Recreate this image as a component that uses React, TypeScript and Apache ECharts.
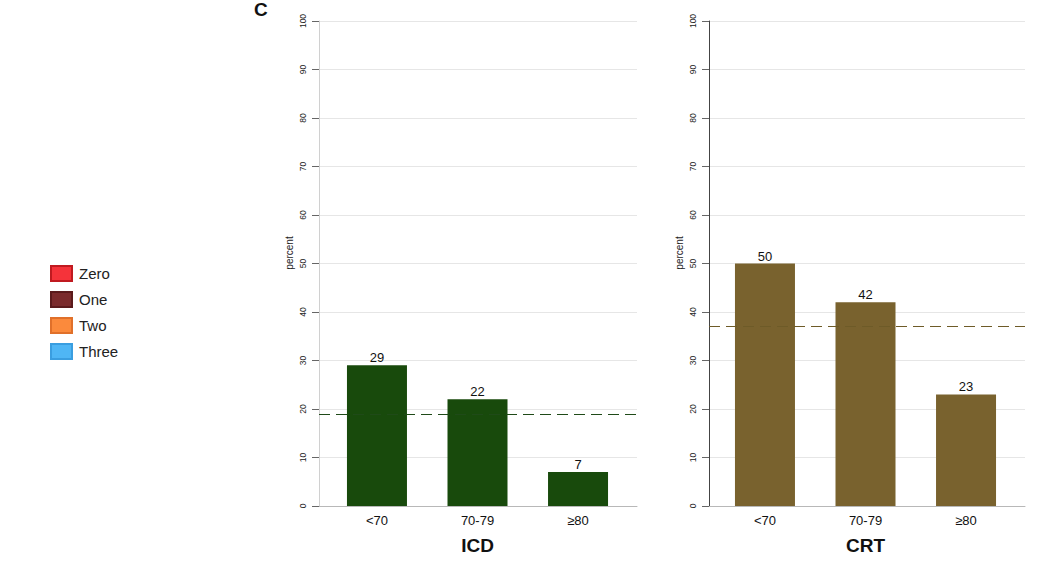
import React, { useEffect, useRef } from "react";
import * as echarts from "echarts";

const categories = ["<70", "70-79", "≥80"];
const icdValues = [29, 22, 7];
const crtValues = [50, 42, 23];
const icdOverall = 19;
const crtOverall = 37;
const legendNames = ["Zero", "One", "Two", "Three"];
const legendColors = ["#f5333a", "#7a2a2c", "#fb8a3c", "#4fb6f5"];
const legendBorders = ["#c01a20", "#5a1a1c", "#e0702a", "#3a9ee0"];

const FONT = "Liberation Sans, Arial, sans-serif";

export default function App() {
  const ref = useRef<HTMLDivElement>(null);
  useEffect(() => {
    const chart = echarts.init(ref.current!, null, { renderer: "svg" });
    const top = 21;
    const height = 485;
    const frameY = (axisColor: string) => ({
      type: "value",
      min: 0,
      max: 100,
      interval: 10,
      axisLine: { show: true, lineStyle: { color: axisColor, width: 1 } },
      axisTick: { show: true, length: 7, lineStyle: { color: "#666" } },
      axisLabel: { rotate: 90, fontSize: 8.5, color: "#222", margin: 12, fontFamily: FONT },
      splitLine: { show: true, lineStyle: { color: "#e6e6e6", width: 1 } },
    });
    const hiddenY = { type: "value", min: 0, max: 100, show: false };
    const frameX = {
      type: "category",
      data: ["a"],
      axisLine: { show: true, lineStyle: { color: "#b8b8b8" } },
      axisTick: { show: false },
      axisLabel: { show: false },
    };
    const barX = (name: string) => ({
      type: "category",
      data: categories,
      axisLine: { show: false },
      axisTick: { show: false },
      axisLabel: { fontSize: 13, color: "#111", margin: 8, fontFamily: FONT },
      name,
      nameLocation: "middle",
      nameGap: 30,
      nameTextStyle: { fontSize: 19, fontWeight: "bold", color: "#111", fontFamily: FONT },
    });
    const barSeries = (idx: number, data: number[], color: string) => ({
      type: "bar",
      xAxisIndex: idx,
      yAxisIndex: idx,
      data,
      barWidth: 60,
      itemStyle: { color },
      label: { show: true, position: "top", distance: 1, fontSize: 13, color: "#111", fontFamily: FONT },
      silent: true,
    });
    const refLine = (idx: number, value: number, color: string) => ({
      type: "line",
      xAxisIndex: idx,
      yAxisIndex: idx,
      data: [null],
      symbol: "none",
      markLine: {
        silent: true,
        symbol: ["none", "none"],
        label: { show: false },
        lineStyle: { color, type: [11, 6], width: 1.2 },
        data: [{ yAxis: value }],
      },
    });
    chart.setOption({
      animation: false,
      backgroundColor: "#ffffff",
      textStyle: { fontFamily: FONT },
      grid: [
        { left: 319, top, width: 318, height },
        { left: 326.7, top, width: 301.6, height },
        { left: 709, top, width: 316, height },
        { left: 714.7, top, width: 301.6, height },
      ],
      xAxis: [
        { ...frameX, gridIndex: 0 },
        { ...barX("ICD"), gridIndex: 1 },
        { ...frameX, gridIndex: 2 },
        { ...barX("CRT"), gridIndex: 3 },
      ],
      yAxis: [
        { ...frameY("#d0d0d0"), gridIndex: 0 },
        { ...hiddenY, gridIndex: 1 },
        { ...frameY("#444444"), gridIndex: 2 },
        { ...hiddenY, gridIndex: 3 },
      ],
      legend: {
        orient: "vertical",
        left: 45,
        top: 260,
        itemWidth: 21,
        itemHeight: 15,
        itemGap: 9,
        icon: "rect",
        selectedMode: false,
        textStyle: { fontSize: 15, color: "#222", fontFamily: FONT, padding: [0, 0, 0, 2] },
        data: legendNames,
      },
      graphic: [
        {
          type: "text",
          left: 254,
          top: 0,
          style: { text: "C", fontSize: 19, fontWeight: "bold", fill: "#111", fontFamily: FONT },
        },
        {
          type: "text",
          x: 289,
          y: 253,
          rotation: Math.PI / 2,
          style: { text: "percent", fontSize: 10, fill: "#222", fontFamily: FONT, align: "center", verticalAlign: "middle" },
        },
        {
          type: "text",
          x: 679,
          y: 253,
          rotation: Math.PI / 2,
          style: { text: "percent", fontSize: 10, fill: "#222", fontFamily: FONT, align: "center", verticalAlign: "middle" },
        },
      ],
      series: [
        ...legendNames.map((n, i) => ({
          type: "bar",
          name: n,
          xAxisIndex: 0,
          yAxisIndex: 0,
          data: [],
          itemStyle: { color: legendColors[i], borderColor: legendBorders[i], borderWidth: 1 },
        })),
        barSeries(1, icdValues, "#184a0c"),
        barSeries(3, crtValues, "#79622e"),
        refLine(0, icdOverall, "#1f4a18"),
        refLine(2, crtOverall, "#6e5b28"),
      ],
    });
    return () => chart.dispose();
  }, []);
  return <div ref={ref} style={{ position: "fixed", left: 0, top: 0, width: 1038, height: 563 }} />;
}
